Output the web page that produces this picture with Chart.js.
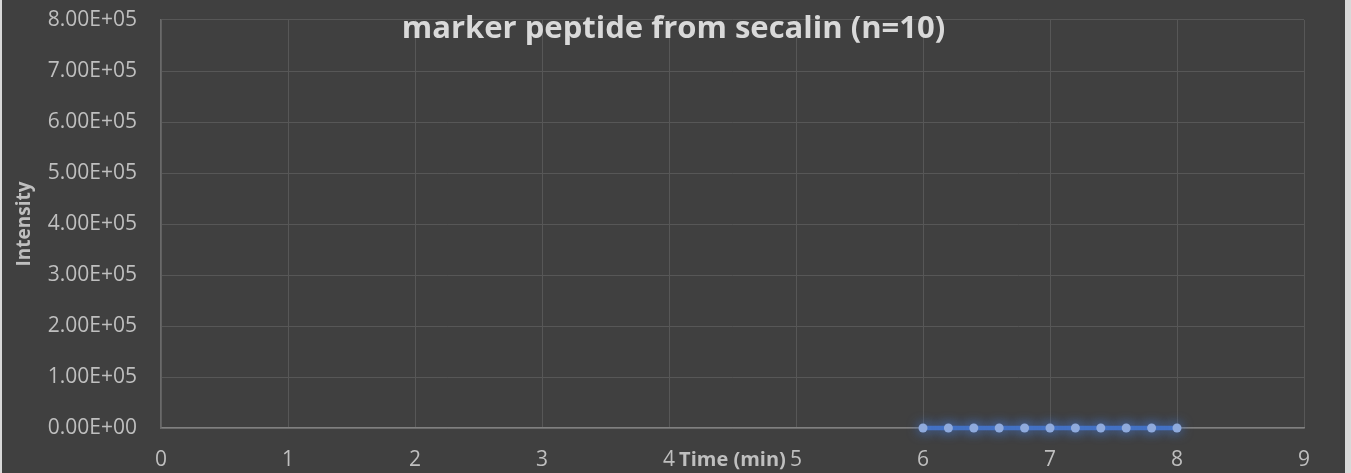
<!DOCTYPE html>
<html>
<head>
<meta charset="utf-8">
<script src="https://cdn.jsdelivr.net/npm/chart.js@4/dist/chart.umd.min.js"></script>
<style>
  html, body { margin: 0; padding: 0; background: #d9d9d9; }
  #wrap { position: absolute; left: 2px; top: 0; width: 1343px; height: 473px; background: #404040; }
</style>
</head>
<body>
<div id="wrap"><canvas id="chart"></canvas></div>
<script>
// time points (min) and intensities
const times = [6, 6.2, 6.4, 6.6, 6.8, 7, 7.2, 7.4, 7.6, 7.8, 8];
const intensities = [0, 0, 0, 0, 0, 0, 0, 0, 0, 0, 0];
const xTicks = [0, 1, 2, 3, 4, 5, 6, 7, 8, 9];
const yTicks = [0, 100000, 200000, 300000, 400000, 500000, 600000, 700000, 800000];

const FONT = 'Open Sans';

function sci(v) {
  const [m, e] = v.toExponential(2).split('e');
  const n = Math.abs(parseInt(e, 10));
  return m + 'E' + (e[0] === '-' ? '-' : '+') + String(n).padStart(2, '0');
}

// soft glow under the series like the original
const glow = {
  id: 'glow',
  beforeDatasetsDraw(chart) {
    const ctx = chart.ctx;
    ctx.save();
    ctx.shadowColor = 'rgba(68, 114, 196, 1)';
    ctx.shadowBlur = 12;
  },
  afterDatasetsDraw(chart) {
    chart.ctx.restore();
  }
};

window.addEventListener('DOMContentLoaded', () => {
  const ctx = document.getElementById('chart');
  new Chart(ctx, {
    type: 'line',
    data: {
      datasets: [{
        label: 'marker peptide',
        data: times.map((t, i) => ({ x: t, y: intensities[i] })),
        borderColor: '#4472C4',
        backgroundColor: '#8FAADC',
        borderWidth: 4.5,
        pointRadius: 4.5,
        pointBorderWidth: 0,
        pointBackgroundColor: '#8FAADC',
        tension: 0,
        clip: false
      }]
    },
    options: {
      responsive: true,
      maintainAspectRatio: false,
      animation: false,
      layout: { padding: 0 },
      plugins: {
        legend: { display: false },
        tooltip: { enabled: false },
        title: {
          display: true,
          text: 'marker peptide from secalin (n=10)',
          color: '#d9d9d9',
          font: { family: FONT, size: 31, weight: 'bold' },
          padding: { top: 10.4, bottom: -27.6 }
        }
      },
      scales: {
        x: {
          type: 'linear',
          min: 0,
          max: 9,
          afterBuildTicks: axis => { axis.ticks = xTicks.map(v => ({ value: v })); },
          afterFit: axis => { axis.height = 45; },
          ticks: {
            color: '#bfbfbf',
            font: { family: FONT, size: 21 },
            padding: 0,
            maxRotation: 0
          },
          grid: { color: '#575757', drawTicks: true, tickLength: 19, tickColor: 'transparent', lineWidth: 1 },
          border: { color: '#808080', width: 1.5 },
          title: {
            display: true,
            text: 'Time (min)',
            color: '#bfbfbf',
            font: { family: FONT, size: 20, weight: 'bold' },
            padding: { top: 0, bottom: 1 }
          }
        },
        y: {
          min: 0,
          max: 800000,
          afterBuildTicks: axis => { axis.ticks = yTicks.map(v => ({ value: v })); },
          afterFit: axis => { axis.width = 159; },
          ticks: {
            color: '#bfbfbf',
            font: { family: FONT, size: 21 },
            padding: 0,
            callback: v => sci(v)
          },
          grid: { color: '#575757', drawTicks: true, tickLength: 24, tickColor: 'transparent', lineWidth: 1 },
          border: { color: '#6a6a6a', width: 1.5 },
          title: {
            display: true,
            text: 'Intensity',
            color: '#bfbfbf',
            font: { family: FONT, size: 19, weight: 'bold' },
            padding: { top: 11, bottom: 0 }
          }
        },
        // empty strip on the right so the plot ends where the original does
        right: {
          position: 'right',
          display: true,
          ticks: { display: false },
          grid: { display: false },
          border: { display: false },
          afterFit: axis => { axis.width = 41; }
        }
      }
    },
    plugins: [glow]
  });
});
</script>
</body>
</html>
